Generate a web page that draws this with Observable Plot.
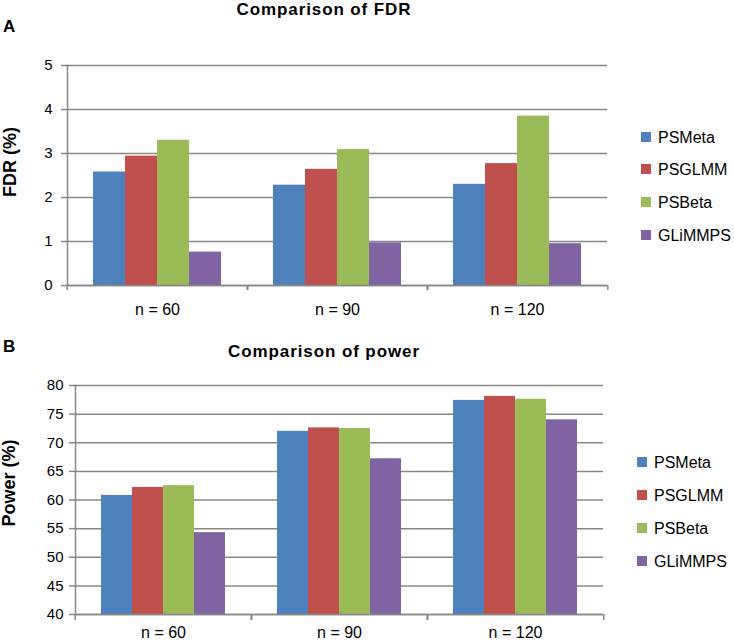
<!DOCTYPE html>
<html><head><meta charset="utf-8">
<script src="https://cdn.jsdelivr.net/npm/d3@7"></script>
<script src="https://cdn.jsdelivr.net/npm/@observablehq/plot@0.6"></script>
<style>
body{margin:0;background:#fff;}
#wrap{position:relative;width:734px;height:643px;overflow:hidden;font-family:"Liberation Sans",Arial,sans-serif;background:#fff;}
#wrap svg{position:absolute;left:0;}
</style></head><body><div id="wrap"></div>
<script>
// ---- data ----
const categories = ["n = 60", "n = 90", "n = 120"];
const methods = ["PSMeta", "PSGLMM", "PSBeta", "GLiMMPS"];
const colors = ["#4F81BD", "#C0504D", "#9BBB59", "#8064A2"];
const fdrPSMeta = [2.58, 2.28, 2.30];
const fdrPSGLMM = [2.94, 2.64, 2.77];
const fdrPSBeta = [3.30, 3.09, 3.85];
const fdrGLiMMPS = [0.76, 0.97, 0.95];
const powPSMeta = [60.8, 72.0, 77.4];
const powPSGLMM = [62.2, 72.6, 78.1];
const powPSBeta = [62.5, 72.5, 77.6];
const powGLiMMPS = [54.3, 67.2, 74.0];
const fdrTicks = [0, 1, 2, 3, 4, 5];
const powTicks = [40, 45, 50, 55, 60, 65, 70, 75, 80];

const W = 734;
const gray = "#878787";
const wrap = document.getElementById("wrap");

function groupedBars(o) {
  const rows = categories.flatMap((c, i) => methods.map((m, j) => ({cat: c, method: m, value: o.values[j][i]})));
  const fw = (W - o.ml - o.mr) / categories.length;
  const lo = o.ticks[0], hi = o.ticks[o.ticks.length - 1];
  const chart = Plot.plot({
    width: W, height: o.height,
    marginTop: o.mt, marginBottom: o.mb, marginLeft: o.ml, marginRight: o.mr,
    style: {fontFamily: "'Liberation Sans', Arial, sans-serif", fontSize: "15px", color: "#000", background: "transparent"},
    fx: {domain: categories, padding: 0, label: null},
    x: {domain: methods, paddingInner: 0, paddingOuter: 0.76, axis: null},
    y: {domain: [lo, hi], label: null},
    color: {domain: methods, range: colors},
    marks: [
      Plot.gridY(o.ticks, {stroke: gray, strokeOpacity: 1, strokeWidth: 1.5}),
      Plot.barY(rows, {fx: "cat", x: "method", y1: lo, y2: "value", fill: "method"}),
      Plot.ruleY([lo], {stroke: gray, strokeWidth: 1.5}),
      Plot.frame({anchor: "left", facetAnchor: "left", stroke: gray, strokeWidth: 1.5}),
      Plot.axisY(o.ticks, {tickSize: o.tickSize, tickPadding: o.tickPadding, stroke: gray, strokeWidth: 1.5, fill: "#000", label: null, fontSize: 15}),
      Plot.axisFx({anchor: "bottom", tickSize: 0, tickPadding: o.labelPad, label: null, fontSize: 16, fill: "#000"}),
      Plot.axisFx({anchor: "bottom", tickSize: o.bTick, tickFormat: () => "", dx: -fw / 2, stroke: gray, strokeWidth: 1.5, label: null}),
      Plot.axisFx([categories[categories.length - 1]], {anchor: "bottom", tickSize: o.bTick, tickFormat: () => "", dx: fw / 2, stroke: gray, strokeWidth: 1.5, label: null})
    ]
  });
  chart.style.top = o.top + "px";
  wrap.appendChild(chart);
  return chart;
}

const c1 = groupedBars({
  values: [fdrPSMeta, fdrPSGLMM, fdrPSBeta, fdrGLiMMPS], ticks: fdrTicks,
  top: 0, height: 325, mt: 65, mb: 40, ml: 66, mr: 126,
  tickSize: 6, tickPadding: 9, labelPad: 18, bTick: 5
});
const c2 = groupedBars({
  values: [powPSMeta, powPSGLMM, powPSBeta, powGLiMMPS], ticks: powTicks,
  top: 320, height: 323, mt: 65, mb: 29, ml: 74, mr: 130,
  tickSize: 6, tickPadding: 6, labelPad: 12, bTick: 6
});

// ---- overlay texts and legends ----
const ov = d3.select(wrap).append("svg")
  .attr("width", W).attr("height", 643)
  .style("top", "0px").style("pointer-events", "none")
  .style("font-family", "'Liberation Sans', Arial, sans-serif");

function title(txt, x, y) {
  ov.append("text").attr("x", x).attr("y", y).attr("text-anchor", "middle")
    .attr("font-weight", "bold").attr("font-size", 17).attr("letter-spacing", "0.9px").text(txt);
}
title("Comparison of FDR", 324, 15);
title("Comparison of power", 324, 357);

function panel(txt, y) {
  ov.append("text").attr("x", 3).attr("y", y).attr("font-weight", "bold").attr("font-size", 17).text(txt);
}
panel("A", 32);
panel("B", 352);

function ylab(txt, x, y) {
  ov.append("text").attr("transform", `translate(${x},${y}) rotate(-90)`).attr("text-anchor", "middle")
    .attr("font-weight", "bold").attr("font-size", 18).text(txt);
}
ylab("FDR (%)", 16, 162);
ylab("Power (%)", 15, 483);

function legend(chart, sx, tx, ys) {
  const color = chart.scale("color");
  methods.forEach((m, i) => {
    ov.append("rect").attr("x", sx).attr("y", ys[i] - 5).attr("width", 10).attr("height", 10).attr("fill", color.apply(m));
    ov.append("text").attr("x", tx).attr("y", ys[i] + 6).attr("font-size", 16).text(m);
  });
}
legend(c1, 641, 658, [137, 169, 202, 235]);
legend(c2, 637, 654, [462, 495, 528, 561]);
</script></body></html>
